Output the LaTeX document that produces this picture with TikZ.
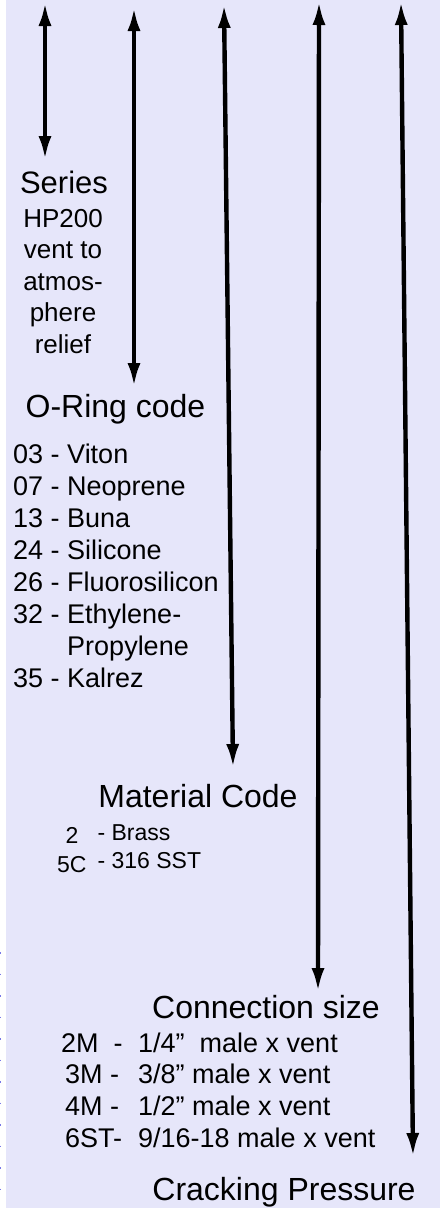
\documentclass[tikz,border=0pt]{standalone}
\usepackage{fontspec}
\setmainfont{Liberation Sans}
\usetikzlibrary{arrows.meta}
\definecolor{panel}{RGB}{230,230,250}
\definecolor{dotblue}{RGB}{120,120,230}
\begin{document}
\begin{tikzpicture}[x=1pt,y=-1pt]
        \tikzstyle{every node}=[inner sep=0pt, text=black, anchor=base]
        \tikzstyle{head}=[font=\fontsize{32}{38}\selectfont]
        \tikzstyle{lst}=[font=\fontsize{27}{32}\selectfont, anchor=base west]
        \tikzstyle{arr}=[black, line width=4.4pt, {Latex[length=24pt,width=13pt]}-{Latex[length=24pt,width=13pt]}]

        \useasboundingbox (0,0) rectangle (442,1208);
        \fill[panel] (6,0) rectangle (440,1208);
        \draw[dotblue, line width=1.2pt, dash pattern=on 1.5pt off 20pt] (0.8,952) -- (0.8,1208);

        \node[head, font=\fontsize{31}{37}\selectfont] (series) at (64,193) {Series};
        \node[font=\fontsize{26}{31.5}\selectfont] (hp) at (63,227)
            {\begin{tabular}[t]{@{}c@{}} HP200 \\ vent to \\ atmos- \\ phere \\ relief \end{tabular}};

        \node[head] (oring) at (115.5,417) {O-Ring code};
        \node[lst] (olist) at (13,463)
            {\begin{tabular}[t]{@{}l@{}} 03 - Viton \\ 07 - Neoprene \\ 13 - Buna \\ 24 - Silicone \\ 26 - Fluorosilicon \\
             32 - Ethylene- \\ \hphantom{32 - }Propylene \\ 35 - Kalrez \end{tabular}};

        \node[head] (material) at (198,807) {Material Code};
        \node[lst, font=\fontsize{23}{28}\selectfont] (mlist) at (57,840)
            {\begin{tabular}[t]{@{}c@{\hspace{11pt}}l@{}} \raisebox{-3pt}{2} & - Brass \\ \raisebox{-4pt}{5C} & - 316 SST \end{tabular}};

        \node[head] (conn) at (266,1018) {Connection size};
        \node[lst, font=\fontsize{27}{31.7}\selectfont] (clist) at (61,1052)
            {\begin{tabular}[t]{@{}l@{}l@{}}
             \makebox[77pt][l]{2M\ \ -} & 1/4”\ \ male x vent \\
             \makebox[77pt][l]{\hspace{4pt}3M -} & 3/8” male x vent \\
             \makebox[77pt][l]{\hspace{4pt}4M -} & 1/2” male x vent \\
             \makebox[77pt][l]{\hspace{4pt}6ST-} & 9/16-18 male x vent \end{tabular}};

        \node[head] (crack) at (284,1200) {Cracking Pressure};

        \coordinate (s-top) at (45,2);    \coordinate (s-bot) at (45,160);
        \coordinate (o-top) at (134,7);   \coordinate (o-bot) at (134,387);
        \coordinate (m-top) at (224,4);   \coordinate (m-bot) at (233,768);
        \coordinate (c-top) at (319,1);   \coordinate (c-bot) at (318,992);
        \coordinate (p-top) at (401,1);   \coordinate (p-bot) at (413,1157);

        \draw[arr] (s-top) -- (s-bot);
        \draw[arr] (o-top) -- (o-bot);
        \draw[arr] (m-top) -- (m-bot);
        \draw[arr] (c-top) -- (c-bot);
        \draw[arr] (p-top) -- (p-bot);
    \end{tikzpicture}
\end{document}
